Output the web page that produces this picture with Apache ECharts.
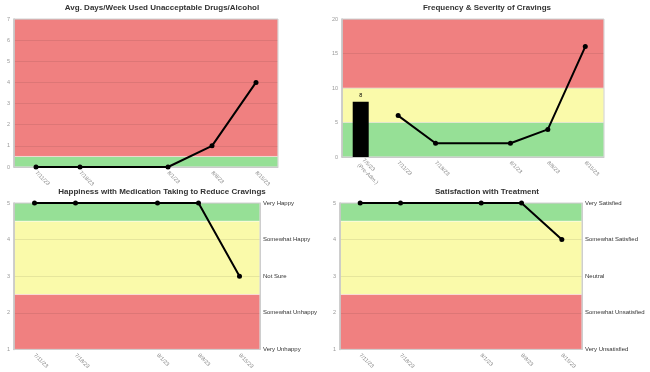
<!DOCTYPE html>
<html><head><meta charset="utf-8">
<script src="https://cdn.jsdelivr.net/npm/echarts@6/dist/echarts.min.js"></script>
<style>html,body{margin:0;padding:0;background:#fff}#c{width:650px;height:372px}</style>
</head><body><div id="c"></div>
<script>
// ---- data ----
const titles = [
  'Avg. Days/Week Used Unacceptable Drugs/Alcohol',
  'Frequency & Severity of Cravings',
  'Happiness with Medication Taking to Reduce Cravings',
  'Satisfaction with Treatment'
];
const dates = ['7/11/23', '7/18/23', '', '8/1/23', '8/8/23', '8/15/23'];
const datesCravings = ['7/5/23\n(Pre-Adm.)', '7/11/23', '7/18/23', '', '8/1/23', '8/8/23', '8/15/23'];
const drugDays = [0, 0, null, 0, 1, 4];
const cravingsPreAdm = [8, null, null, null, null, null, null];
const cravings = [null, 6, 2, null, 2, 4, 16];
const happiness = [5, 5, null, 5, 5, 3];
const satisfaction = [5, 5, null, 5, 5, 4];
const happinessLabels = ['Very Unhappy', 'Somewhat Unhappy', 'Not Sure', 'Somewhat Happy', 'Very Happy'];
const satisfactionLabels = ['Very Unsatisfied', 'Somewhat Unsatisfied', 'Neutral', 'Somewhat Satisfied', 'Very Satisfied'];
// bands: [from, to, colorKey]
const bandsDrug = [[0, 0.5, 'g'], [0.5, 7, 'r']];
const bandsCravings = [[0, 5, 'g'], [5, 10, 'y'], [10, 20, 'r']];
const bandsScale = [[4.5, 5, 'g'], [2.5, 4.5, 'y'], [1, 2.5, 'r']];

// ---- styling ----
const COL = { g: '#96e096', y: '#fafaaa', r: '#f08080' };
const FONT = 'Liberation Sans, Arial, sans-serif';
const grids = [
  { left: 14, top: 19, width: 264, height: 148 },
  { left: 342, top: 19, width: 262, height: 138 },
  { left: 14, top: 203, width: 246, height: 148 },
  { left: 340, top: 203, width: 242, height: 148 }
];
const titleCenters = [[162, 4], [487, 4], [162, 188], [487, 188]];

const option = {
  animation: false,
  title: titles.map((t, i) => ({
    text: t, left: titleCenters[i][0], top: titleCenters[i][1], textAlign: 'center', padding: 0,
    textStyle: { fontFamily: FONT, fontSize: 8, fontWeight: 'bold', color: '#333' }
  })),
  grid: grids.map(g => Object.assign({ show: true, z: 15, borderColor: '#d0d0d0', borderWidth: 1, backgroundColor: 'transparent' }, g)),
  xAxis: [dates, datesCravings, dates, dates].map((d, i) => ({
    type: 'category', gridIndex: i, data: d, boundaryGap: true,
    axisLine: { show: true, lineStyle: { color: '#ccc' } }, axisTick: { show: false },
    axisLabel: { rotate: -45, fontSize: 5.5, color: '#888', fontFamily: FONT, interval: 0, margin: 5, lineHeight: 7 },
    splitLine: { show: false }
  })),
  yAxis: [],
  series: []
};

const yDefs = [
  { min: 0, max: 7, interval: 1 },
  { min: 0, max: 20, interval: 5 },
  { min: 1, max: 5, interval: 1 },
  { min: 1, max: 5, interval: 1 }
];
yDefs.forEach((d, i) => {
  option.yAxis.push({
    type: 'value', gridIndex: i, min: d.min, max: d.max, interval: d.interval, z: 10,
    axisLine: { show: true, lineStyle: { color: '#bbb', width: 1.5 } }, axisTick: { show: false },
    axisLabel: { fontSize: 5.5, color: '#999', fontFamily: FONT, margin: 4 },
    splitLine: { show: true, lineStyle: { color: 'rgba(0,0,0,0.08)', width: 1 } }
  });
});
// right-side axes
[happinessLabels, satisfactionLabels].forEach((labels, k) => {
  const gi = k + 2;
  option.yAxis.push({
    type: 'value', gridIndex: gi, position: 'right', min: 1, max: 5, interval: 1, z: 10,
    axisLine: { show: true, lineStyle: { color: '#ccc' } }, axisTick: { show: false },
    axisLabel: { fontSize: 6, color: '#333', fontFamily: FONT, margin: 3, formatter: v => labels[v - 1] || '' },
    splitLine: { show: false }
  });
});

const bandSets = [bandsDrug, bandsCravings, bandsScale, bandsScale];
bandSets.forEach((bands, i) => {
  option.series.push({
    type: 'line', xAxisIndex: i, yAxisIndex: i, data: [], z: 1, silent: true,
    markArea: {
      silent: true, z: 1,
      data: bands.map(b => [
        { yAxis: b[0], itemStyle: { color: COL[b[2]], borderColor: 'rgba(255,255,255,0.45)', borderWidth: 1 } },
        { yAxis: b[1] }
      ])
    }
  });
});

const lineStyleCommon = {
  type: 'line', z: 20, connectNulls: true, symbol: 'circle', symbolSize: 5,
  lineStyle: { color: '#000', width: 2 }, itemStyle: { color: '#000' }
};
option.series.push({
  type: 'bar', xAxisIndex: 1, yAxisIndex: 1, data: cravingsPreAdm, barWidth: 16, z: 20,
  itemStyle: { color: '#000' },
  label: { show: true, position: 'top', fontSize: 5.5, color: '#000', fontFamily: FONT, distance: 3 }
});
[drugDays, cravings, happiness, satisfaction].forEach((d, i) => {
  option.series.push(Object.assign({ xAxisIndex: i, yAxisIndex: i, data: d }, lineStyleCommon));
});

const chart = echarts.init(document.getElementById('c'), null, { renderer: 'canvas' });
chart.setOption(option);
</script>
</body></html>
